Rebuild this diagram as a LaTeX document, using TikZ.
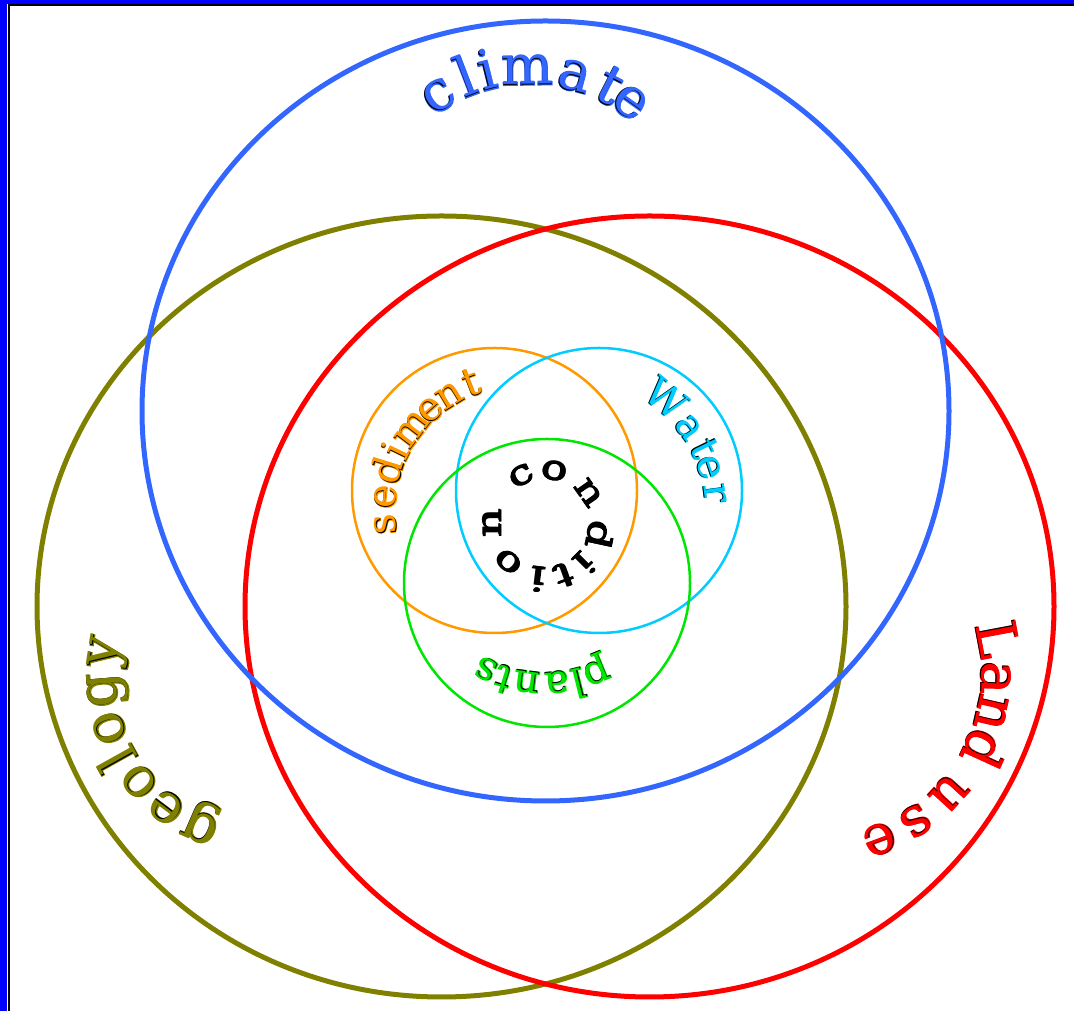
\documentclass[tikz,border=0pt]{standalone}
\usepackage{fontspec}
\usepackage{graphicx}
\setmainfont{DejaVu Serif}
\newfontfamily\fxbold[FakeBold=2.5]{DejaVu Serif}
\definecolor{climblue}{HTML}{3366FF}
\definecolor{geoolive}{HTML}{808000}
\definecolor{landred}{HTML}{FF0000}
\definecolor{sedorange}{HTML}{FF9900}
\definecolor{watercyan}{HTML}{00CCFF}
\definecolor{plantgreen}{HTML}{00E600}
\definecolor{frameblue}{HTML}{0000FF}
% coloured letter with a thin dark inner edge
\newcommand\glyphfx[2]{\rlap{\textcolor{#2}{\fxbold #1}}\rlap{\textcolor{black}{#1}}\textcolor{#2}{\kern0.7pt\raisebox{0.7pt}{#1}}\kern-0.7pt}
% #1 name, #2 cx, #3 cy, #4 baseline radius, #5 font style, #6 colour, #7 x-stretch, #8 angle/letter list
\newcommand\ringtext[8]{%
  \foreach \rta/\lett [count=\k] in {#8}{%
    \node[#5, anchor=base, rotate=\rta-90, inner sep=0pt] (#1-\k)
      at ({#2+#4*cos(\rta)},{#3+#4*sin(\rta)}) {\scalebox{#7}[1]{\glyphfx{\lett}{#6}}};
  }}
\tikzset{
  bigring/.style={line width=5pt},
  smallring/.style={line width=2.5pt},
  bigtext/.style={font=\fontsize{55}{55}\selectfont},
  smalltext/.style={font=\fontsize{40}{40}\selectfont},
  centertext/.style={font=\fontsize{34}{34}\selectfont},
}
\begin{document}
\begin{tikzpicture}[x=1pt,y=1pt]
\useasboundingbox (0,0) rectangle (1074,1011);
% frame
\fill[frameblue] (0,0) rectangle (7,1011);
\fill[frameblue] (0,1007) rectangle (1074,1011);
\draw[black, line width=2pt] (9,0) -- (9,1006) -- (1074,1006);
% rings
\draw[bigring, geoolive] (441.5,404.5) ellipse [x radius=404.5, y radius=390.5];
\draw[bigring, landred] (649.5,404.5) ellipse [x radius=404.5, y radius=390.5];
\draw[bigring, climblue] (545.5,600) ellipse [x radius=403.5, y radius=390];
\draw[smallring, sedorange] (494.5,520.5) ellipse [x radius=142.5, y radius=142.5];
\draw[smallring, watercyan] (599,520.5) ellipse [x radius=143, y radius=142.5];
\draw[smallring, plantgreen] (547,428) ellipse [x radius=143, y radius=144];
% labels
\ringtext{clim}{529.5}{767}{159}{bigtext}{climblue}{1}{121.7/c,111/l,104/i,90.8/m,75.1/a,63/t,54.7/e}
\ringtext{geo}{265}{334}{149}{bigtext}{geoolive}{1}{171.2/y,184.7/g,198.3/o,209.1/l,219.9/o,233.1/e,246.6/g}
\ringtext{land}{818}{338}{163}{bigtext}{landred}{1}{10.7/L,-1.5/a,-12.8/n,-24.5/d,-42.5/u,-56.5/s,-69.6/e}
\ringtext{sed}{520.5}{498.8}{125}{smalltext}{sedorange}{1}{185.4/s,173.8/e,162.7/d,154/i,142.8/m,131.5/e,121.5/n,110.9/t}
\ringtext{wat}{573}{499}{132}{smalltext}{watercyan}{1}{50.9/W,36.4/a,26/t,18.2/e,7.6/r}
\ringtext{pla}{545}{464}{125}{smalltext}{plantgreen}{1}{-67.6/p,-76/l,-84.9/a,-97.5/n,-107.5/t,-115.5/s}
\ringtext{con}{545}{488}{44}{centertext}{black}{1.3}{117/c,80/o,35/n,-12/d,-45/i,-70/t,-97/i,-133/o,-180/n}
\end{tikzpicture}
\end{document}
